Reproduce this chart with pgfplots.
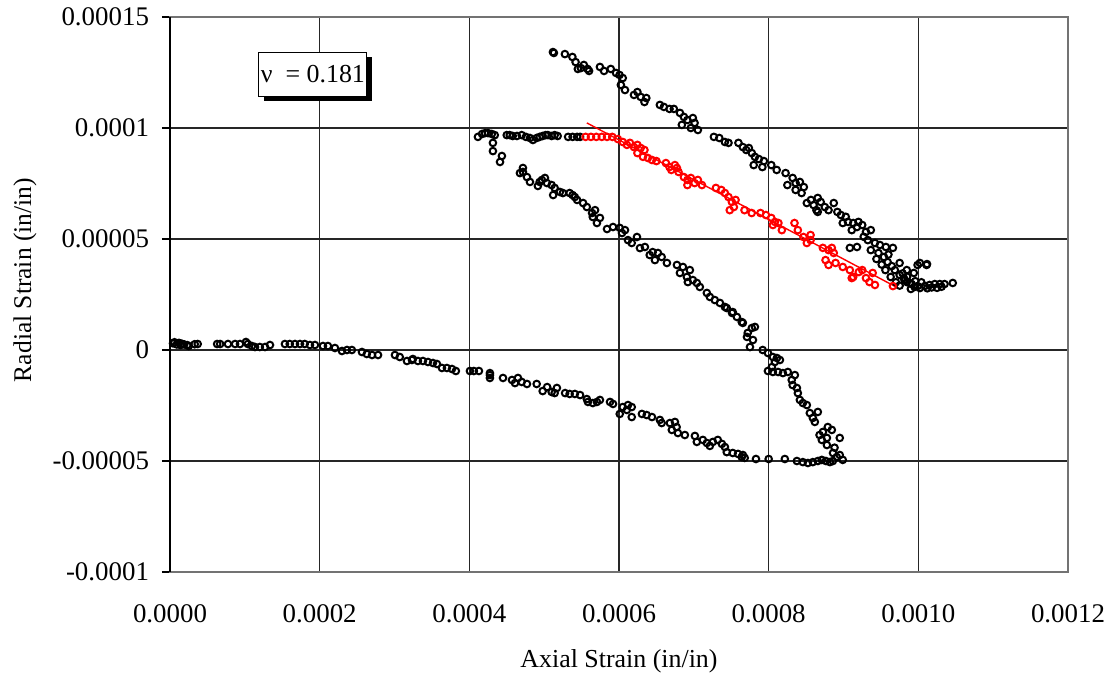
\documentclass[border=0pt]{standalone}
\usepackage{fontspec}
\setmainfont{Liberation Serif}
\usepackage{pgfplots}
\pgfplotsset{compat=1.18}
\usetikzlibrary{shadows}

\pgfplotstableread{
x y
4e-6 3e-6
6e-6 3.5e-6
9e-6 2.5e-6
12e-6 3.2e-6
14e-6 2.2e-6
16e-6 2.8e-6
19e-6 2.5e-6
23e-6 2.2e-6
25e-6 1.8e-6
33e-6 2.6e-6
37e-6 2.7e-6
63e-6 2.7e-6
67e-6 2.7e-6
77.5e-6 2.7e-6
87e-6 2.7e-6
93.5e-6 2.7e-6
101.5e-6 3.6e-6
104e-6 2.7e-6
109.5e-6 1.8e-6
113.6e-6 1.35e-6
120e-6 1.35e-6
127e-6 1.35e-6
133.6e-6 2.25e-6
153.6e-6 2.7e-6
160e-6 2.7e-6
167e-6 2.7e-6
173.7e-6 2.7e-6
180e-6 2.7e-6
187e-6 2.25e-6
193.7e-6 2.25e-6
204.4e-6 1.8e-6
211e-6 1.8e-6
220.4e-6 0.9e-6
229.8e-6 -0.45e-6
236.5e-6 0
243e-6 0
256.5e-6 -0.9e-6
263e-6 -1.8e-6
270e-6 -2.25e-6
278e-6 -2.25e-6
300.6e-6 -2.25e-6
307e-6 -3.15e-6
316.6e-6 -4.95e-6
323.3e-6 -4.5e-6
324.6e-6 -4.05e-6
331.3e-6 -4.95e-6
338e-6 -4.95e-6
344.7e-6 -5.4e-6
351.4e-6 -5.86e-6
356.7e-6 -6.3e-6
363.4e-6 -8.1e-6
370e-6 -8.1e-6
376.8e-6 -8.56e-6
382e-6 -9.46e-6
400.8e-6 -9.46e-6
406e-6 -9.46e-6
412.8e-6 -9.46e-6
427.5e-6 -10.4e-6
427.5e-6 -11.3e-6
427.5e-6 -12.6e-6
445e-6 -12.6e-6
457e-6 -13.5e-6
461e-6 -14.9e-6
465e-6 -12.6e-6
470e-6 -14.4e-6
477e-6 -15.3e-6
490e-6 -15.3e-6
498e-6 -18.5e-6
504e-6 -16.7e-6
510e-6 -18.9e-6
514e-6 -19.4e-6
517e-6 -17.1e-6
528e-6 -19.4e-6
534e-6 -19.8e-6
541e-6 -19.8e-6
548e-6 -20.3e-6
557e-6 -22.1e-6
558.5e-6 -23.4e-6
565e-6 -23.9e-6
570.5e-6 -23.4e-6
574.5e-6 -22.5e-6
588e-6 -23.4e-6
592e-6 -24.3e-6
601e-6 -28.8e-6
605e-6 -25.7e-6
610.5e-6 -27e-6
612e-6 -24.8e-6
617e-6 -25.7e-6
617e-6 -30.2e-6
630.6e-6 -28.8e-6
637e-6 -29.3e-6
644e-6 -30.2e-6
654.6e-6 -31.5e-6
657e-6 -32.9e-6
668e-6 -32.9e-6
670.6e-6 -36e-6
674.7e-6 -32.4e-6
677e-6 -34.7e-6
678.7e-6 -37.4e-6
688e-6 -38.3e-6
701.4e-6 -38.7e-6
704e-6 -41.4e-6
712e-6 -40.5e-6
717.4e-6 -41.9e-6
721.4e-6 -43.2e-6
725.5e-6 -41.4e-6
732e-6 -40.5e-6
737.5e-6 -42.3e-6
741.5e-6 -43.7e-6
744e-6 -46e-6
752e-6 -46.4e-6
759e-6 -46.8e-6
764e-6 -48.2e-6
768e-6 -48.6e-6
765.5e-6 -47.3e-6
783e-6 -49.1e-6
800e-6 -49.1e-6
821.6e-6 -49.1e-6
837.7e-6 -50e-6
845.7e-6 -50.5e-6
852.4e-6 -50.9e-6
859e-6 -50.5e-6
865.7e-6 -50e-6
871e-6 -49.5e-6
876.4e-6 -50e-6
881.8e-6 -50.5e-6
885.8e-6 -50e-6
886e-6 -46.4e-6
891e-6 -48.2e-6
895e-6 -47.3e-6
899e-6 -49.5e-6
895e-6 -39.6e-6
888e-6 -44e-6
868e-6 -38.3e-6
872.5e-6 -36.9e-6
877.8e-6 -39.6e-6
879e-6 -34.7e-6
884.4e-6 -36e-6
871e-6 -40.5e-6
877.8e-6 -42.8e-6
855e-6 -28.4e-6
859e-6 -30.6e-6
865.7e-6 -27.9e-6
861.7e-6 -32.4e-6
851e-6 -24.8e-6
845.7e-6 -23.9e-6
841.7e-6 -22.5e-6
839e-6 -19.4e-6
837.7e-6 -17.1e-6
832e-6 -15.8e-6
830.8e-6 -13.5e-6
835e-6 -11.3e-6
825.6e-6 -9.9e-6
819e-6 -10.4e-6
812.6e-6 -9.9e-6
805.6e-6 -9.9e-6
799e-6 -9.46e-6
804.3e-6 -7.7e-6
808.3e-6 -5.4e-6
815e-6 -4.5e-6
792e-6 0
799e-6 -1.35e-6
805.6e-6 -3.15e-6
811e-6 -3.6e-6
775e-6 1.35e-6
779e-6 4.5e-6
772e-6 7.7e-6
777.5e-6 9.9e-6
781.6e-6 10.4e-6
771e-6 5.9e-6
744e-6 18.9e-6
751e-6 16.7e-6
752e-6 17.1e-6
757.5e-6 14.9e-6
764e-6 12.6e-6
765.5e-6 12.2e-6
717.4e-6 25.7e-6
721.4e-6 23.9e-6
728e-6 22.5e-6
734.8e-6 21.2e-6
741.5e-6 19.4e-6
708e-6 28.4e-6
704e-6 30.2e-6
698.7e-6 31.5e-6
694.7e-6 36e-6
690.7e-6 32.9e-6
692e-6 30.6e-6
685.4e-6 37.4e-6
681.4e-6 34.7e-6
677.4e-6 38.3e-6
664e-6 39.2e-6
657e-6 41.9e-6
652e-6 43.7e-6
648e-6 40.5e-6
645e-6 44.1e-6
641e-6 42.8e-6
634.6e-6 46.4e-6
628e-6 45.9e-6
624e-6 50.9e-6
617e-6 48.2e-6
612e-6 49.5e-6
604e-6 52.7e-6
608e-6 54e-6
601e-6 55e-6
592e-6 55.4e-6
584e-6 54.5e-6
574.5e-6 59.5e-6
570.5e-6 57.2e-6
565e-6 59.9e-6
568e-6 63e-6
564e-6 61.7e-6
552e-6 66.2e-6
557e-6 64.4e-6
544e-6 67.6e-6
538e-6 69.8e-6
534e-6 70.7e-6
541e-6 68.9e-6
525e-6 70.7e-6
521e-6 71.2e-6
514e-6 73e-6
512e-6 69.8e-6
510e-6 74.3e-6
503.7e-6 75.2e-6
501e-6 77.5e-6
497e-6 76.6e-6
491.6e-6 73.9e-6
494e-6 75.7e-6
481e-6 75.7e-6
477e-6 77.9e-6
471.6e-6 80.2e-6
467.6e-6 79.7e-6
471.6e-6 82e-6
441e-6 84.7e-6
443.5e-6 87.4e-6
431.5e-6 89.6e-6
431.5e-6 93.3e-6
411.5e-6 96e-6
417e-6 97.3e-6
421e-6 97.7e-6
425e-6 97.7e-6
430e-6 97.3e-6
434e-6 96.8e-6
450e-6 96.8e-6
454e-6 96.8e-6
458e-6 96.4e-6
463.6e-6 96.4e-6
470e-6 96.8e-6
475.6e-6 96e-6
481e-6 95.5e-6
485e-6 94.6e-6
490e-6 95.5e-6
494e-6 96e-6
498e-6 96.4e-6
502e-6 96.8e-6
505e-6 96.8e-6
510e-6 96.4e-6
514e-6 96.8e-6
518e-6 96.4e-6
532e-6 96e-6
538e-6 96e-6
544e-6 96e-6
548e-6 96e-6
511.7e-6 134.2e-6
513e-6 133.8e-6
527.7e-6 133.3e-6
537.7e-6 132e-6
542e-6 129.7e-6
545e-6 126.6e-6
549e-6 127e-6
553e-6 128.4e-6
558e-6 126.6e-6
560e-6 125.7e-6
574.5e-6 127.5e-6
580e-6 125.7e-6
589e-6 126.6e-6
596e-6 124.8e-6
600.7e-6 123.9e-6
605e-6 122.5e-6
608e-6 117.1e-6
602.5e-6 119.4e-6
620e-6 114.9e-6
624.6e-6 116.2e-6
629e-6 114e-6
634e-6 111.7e-6
636.5e-6 113.5e-6
654.6e-6 110.4e-6
660e-6 109.5e-6
667.5e-6 108.6e-6
673.3e-6 108.6e-6
681.4e-6 106.8e-6
686.7e-6 105e-6
691.4e-6 103.6e-6
698.7e-6 104.5e-6
701e-6 102.3e-6
696e-6 100e-6
684e-6 101.4e-6
705.4e-6 99.1e-6
726.8e-6 96e-6
734e-6 95.5e-6
741.5e-6 93.7e-6
746.3e-6 93.3e-6
759.6e-6 93.3e-6
765.5e-6 91.4e-6
770e-6 90.1e-6
773.5e-6 91e-6
777.5e-6 88.7e-6
781.6e-6 87e-6
787e-6 86e-6
793.6e-6 85.1e-6
791.6e-6 82.4e-6
780e-6 83.3e-6
803.5e-6 83.3e-6
810.7e-6 81.1e-6
822.6e-6 79.7e-6
825e-6 74.3e-6
832e-6 77.5e-6
836e-6 75.2e-6
841.7e-6 75.7e-6
847e-6 73.4e-6
836e-6 72.1e-6
844e-6 70.7e-6
851e-6 66.2e-6
856.5e-6 67.6e-6
860e-6 65.3e-6
865.6e-6 68.5e-6
869.5e-6 66.7e-6
875e-6 64.4e-6
863.8e-6 63e-6
880e-6 63e-6
887e-6 66.2e-6
891.8e-6 62.2e-6
896.5e-6 60.8e-6
865.6e-6 62.2e-6
899e-6 57.2e-6
906e-6 57.7e-6
913e-6 57.2e-6
920e-6 57.7e-6
925e-6 56.3e-6
930e-6 53.2e-6
911e-6 54e-6
918e-6 55.4e-6
936.5e-6 54e-6
908.5e-6 46e-6
918e-6 46.4e-6
932.5e-6 49.5e-6
942e-6 48.2e-6
948.6e-6 47.3e-6
956.6e-6 46.4e-6
966e-6 46e-6
936.5e-6 45e-6
946.7e-6 43.7e-6
954e-6 41.9e-6
959e-6 39.6e-6
964.5e-6 37.8e-6
968.6e-6 36e-6
975e-6 33.8e-6
980.6e-6 32.4e-6
984.6e-6 30.6e-6
956e-6 36e-6
963e-6 32.9e-6
975e-6 39.2e-6
984.6e-6 36e-6
994e-6 34.7e-6
999e-6 38.3e-6
1011e-6 38.3e-6
988.6e-6 30.2e-6
995e-6 28.4e-6
1002e-6 27.9e-6
1008.6e-6 28.8e-6
1015e-6 29.3e-6
1022e-6 29.7e-6
1028.7e-6 29.7e-6
1035e-6 29.7e-6
1046e-6 30.2e-6
982e-6 31.5e-6
991e-6 29.7e-6
999e-6 28.8e-6
1002e-6 39.2e-6
1011.6e-6 38.7e-6
970e-6 30.5e-6
975e-6 29e-6
979e-6 34.5e-6
985e-6 33e-6
990e-6 27.5e-6
996e-6 31e-6
1004e-6 30.5e-6
1012e-6 27.8e-6
1018e-6 28.2e-6
1025e-6 28e-6
1031e-6 28.5e-6
960e-6 43e-6
951e-6 38.5e-6
944e-6 41e-6
927e-6 51e-6
903e-6 60e-6
}\blackdata

\pgfplotstableread{
x y
555.4e-6 96e-6
562.5e-6 96e-6
569.7e-6 96e-6
577e-6 96e-6
584e-6 96e-6
591e-6 96e-6
598.5e-6 95e-6
605e-6 93.7e-6
610.6e-6 92.4e-6
614.6e-6 93.3e-6
620e-6 91.4e-6
624.6e-6 92.4e-6
629e-6 91e-6
634e-6 90.1e-6
624.6e-6 88.7e-6
632e-6 87e-6
638.6e-6 86.5e-6
644e-6 85.6e-6
650e-6 85.1e-6
662.7e-6 84.2e-6
667.5e-6 82.4e-6
674.7e-6 83.3e-6
677.4e-6 82e-6
679.5e-6 80.2e-6
669.9e-6 81.1e-6
686.7e-6 77.9e-6
691.4e-6 76.6e-6
696e-6 77.5e-6
701e-6 75.2e-6
705.4e-6 76.6e-6
710.8e-6 74.3e-6
691.4e-6 74.3e-6
729.5e-6 73e-6
736.7e-6 72.1e-6
741.5e-6 70.7e-6
746.3e-6 68.9e-6
750.8e-6 66.7e-6
753.5e-6 64.4e-6
748e-6 63e-6
755.8e-6 67.6e-6
767.7e-6 63e-6
777.3e-6 61.7e-6
789e-6 61.7e-6
796.3e-6 60.8e-6
803.5e-6 59.5e-6
808.3e-6 57.7e-6
813e-6 57.2e-6
817.6e-6 54e-6
805.6e-6 56.3e-6
834.5e-6 57.2e-6
839e-6 54e-6
846.5e-6 50.9e-6
856e-6 51.8e-6
851e-6 48.2e-6
856e-6 49.5e-6
872.4e-6 46e-6
880e-6 45e-6
884.4e-6 46e-6
887e-6 43.7e-6
876e-6 40.5e-6
880e-6 38.3e-6
889.4e-6 39.2e-6
899e-6 37.4e-6
908.5e-6 36e-6
913e-6 32.9e-6
920.4e-6 35.1e-6
925e-6 36e-6
930e-6 32.4e-6
939e-6 34.7e-6
942e-6 29.3e-6
934.7e-6 30.6e-6
966e-6 28.8e-6
911e-6 32.4e-6
}\reddata

\begin{document}
\begin{tikzpicture}
\begin{axis}[
  scale only axis,
  width=449bp, height=277.5bp,
  xmin=0, xmax=0.0012, ymin=-0.0001, ymax=0.00015,
  scaled ticks=false,
  xtick={0,0.0002,0.0004,0.0006,0.0008,0.0010,0.0012},
  xticklabels={0.0000,0.0002,0.0004,0.0006,0.0008,0.0010,0.0012},
  ytick={-0.0001,-0.00005,0,0.00005,0.0001,0.00015},
  yticklabels={-0.0001,-0.00005,0,0.00005,0.0001,0.00015},
  grid=major,
  major grid style={black!85, line width=0.6bp},
  axis line style={black!55, line width=0.6bp},
  tick align=outside,
  major tick length=4bp,
  ytick pos=left,
  xtick style={draw=none},
  ytick style={black, line width=0.6bp},
  tick label style={font=\fontsize{13.5}{15}\selectfont},
  yticklabel style={xshift=-3bp},
  xticklabel style={yshift=-9bp},
  xlabel={Axial Strain (in/in)},
  ylabel={Radial Strain (in/in)},
  every axis x label/.style={at={(axis description cs:0.5,-0.160)},anchor=center,font=\fontsize{13}{15}\selectfont},
  every axis y label/.style={at={(axis description cs:-0.1615,0.526)},anchor=center,rotate=90,font=\fontsize{12.8}{15}\selectfont},
  clip=false,
]
\addplot[only marks, mark=o, mark size=1.65bp, black, mark options={line width=1bp}] table {\blackdata};
\addplot[only marks, mark=o, mark size=1.65bp, red, mark options={line width=1bp}] table {\reddata};
\addplot[red, line width=0.7bp, no marks] coordinates {(557e-6,102.3e-6) (973e-6,27.9e-6)};
\draw[black, line width=0.7bp] (rel axis cs:0,0) -- (rel axis cs:0,1);
\node[draw=black, fill=white, line width=0.5bp, minimum width=53.5bp, minimum height=22bp, inner sep=1bp,
  drop shadow={shadow xshift=2.5bp, shadow yshift=-2.5bp, fill=black, opacity=1},
  font=\fontsize{13}{15}\selectfont] at (axis cs:191e-6,124.3e-6) {ν\ \ = 0.181};
\coordinate (sw) at (rel axis cs:0,0);
\coordinate (ne) at (rel axis cs:1,1);
\end{axis}
\pgfresetboundingbox
\path ([shift={(-85bp,-51.5bp)}]sw) rectangle ([shift={(21bp,8.5bp)}]ne);
\end{tikzpicture}
\end{document}
